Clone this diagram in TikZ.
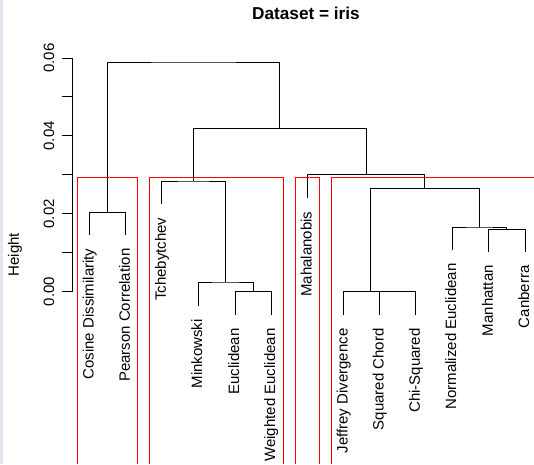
\documentclass[tikz,border=0pt]{standalone}
\usepackage{fontspec}
\setmainfont{Liberation Sans}
\usepackage{tikz}
\usetikzlibrary{arrows,positioning}
\definecolor{edgeband}{RGB}{228,228,242}

\begin{document}
\begin{tikzpicture}[x=1pt,y=-1pt,line width=1pt,
  leaf/.style={rotate=90,anchor=base east,inner sep=0pt,font=\fontsize{15}{18}\selectfont},
  ticklab/.style={rotate=90,anchor=base,inner sep=0pt,font=\fontsize{15}{18}\selectfont},
  branch/.style={draw=black},
  clusterbox/.style={draw=red,color=red,line width=1.1pt}]
          \useasboundingbox (0,0) rectangle (534,464);
          \fill[edgeband] (0,0) rectangle (2.5,464);
          % leaf tips
          \coordinate (cosL) at (89.5,235);
          \coordinate (peaL) at (125.5,235);
          \coordinate (tchL) at (161.5,204);
          \coordinate (minL) at (198,305.7);
          \coordinate (eucL) at (235,315);
          \coordinate (wteL) at (271,315);
          \coordinate (mahL) at (307.3,198);
          \coordinate (jefL) at (343.3,315);
          \coordinate (sqcL) at (379.5,315);
          \coordinate (chiL) at (415.7,315);
          \coordinate (norL) at (452,250);
          \coordinate (manL) at (488.6,251.7);
          \coordinate (canL) at (525,252);
          % merge points
          \coordinate (m1)  at (107.5,212.5);
          \coordinate (m2)  at (253,291.7);
          \coordinate (m3)  at (225.5,282);
          \coordinate (m4)  at (193.5,181);
          \coordinate (m5)  at (397.6,291.7);
          \coordinate (m6)  at (370.4,291.7);
          \coordinate (m7)  at (506.8,229.3);
          \coordinate (m8)  at (479.4,227);
          \coordinate (m9)  at (424.9,188.3);
          \coordinate (m10) at (366.1,174.7);
          \coordinate (m11) at (279.9,128.7);
          \coordinate (m12) at (193.7,62);
          \path[branch] (cosL) |- (m1) -| (peaL);
          \path[branch] (eucL) |- (m2) -| (wteL);
          \path[branch] (minL) |- (m3) -| (m2);
          \path[branch] (tchL) |- (m4) -| (m3);
          \path[branch] (sqcL) |- (m5) -| (chiL);
          \path[branch] (jefL) |- (m6) -| (m5);
          \path[branch] (manL) |- (m7) -| (canL);
          \path[branch] (norL) |- (m8) -| (m7);
          \path[branch] (m6)   |- (m9) -| (m8);
          \path[branch] (mahL) |- (m10) -| (m9);
          \path[branch] (m4)   |- (m11) -| (m10);
          \path[branch] (m1)   |- (m12) -| (m11);
          % y axis
          \draw (72,58) -- (72,291.7);
          \foreach \y in {291.7,252.75,213.8,174.85,135.9,96.95,58} \draw (62.3,\y) -- (72,\y);
          % cluster boxes
          \path[clusterbox] (77.5,464)  |- (137.5,177.5) -- (137.5,464);
          \path[clusterbox] (149.5,464) |- (283.5,177.5) -- (283.5,464);
          \path[clusterbox] (295.5,464) |- (319.5,177.5) -- (319.5,464);
          \path[clusterbox] (331.5,464) |- (534,177.5);
          % title and axis labels
          \node[anchor=base,inner sep=0pt,font=\fontsize{17.2}{20}\selectfont\bfseries] (title) at (306,19.3) {Dataset = iris};
          \node[ticklab] (ylab) at (18.8,254.7) {Height};
          \node[ticklab] (t0) at (54,291.7) {0.00};
          \node[ticklab] (t2) at (54,213.8) {0.02};
          \node[ticklab] (t4) at (54,135.9) {0.04};
          \node[ticklab] (t6) at (54,58)    {0.06};
          % leaf labels
          \node[leaf] (Cosine)    at (93.5,248)  {Cosine Dissimilarity};
          \node[leaf] (Pearson)   at (129.9,248) {Pearson Correlation};
          \node[leaf] (Tcheby)    at (165.9,217) {Tchebytchev};
          \node[leaf] (Minkowski) at (202.2,318.7) {Minkowski};
          \node[leaf] (Euclid)    at (239.2,328) {Euclidean};
          \node[leaf] (WEuclid)   at (275.2,328) {Weighted Euclidean};
          \node[leaf] (Mahal)     at (311.5,211) {Mahalanobis};
          \node[leaf] (Jeffrey)   at (347.5,328) {Jeffrey Divergence};
          \node[leaf] (SqChord)   at (383.7,328) {Squared Chord};
          \node[leaf] (ChiSq)     at (419.9,328) {Chi-Squared};
          \node[leaf] (NEuclid)   at (456.2,263) {Normalized Euclidean};
          \node[leaf] (Manhattan) at (492.8,264.7) {Manhattan};
          \node[leaf] (Canberra)  at (529.2,265) {Canberra};
        \end{tikzpicture}
\end{document}
